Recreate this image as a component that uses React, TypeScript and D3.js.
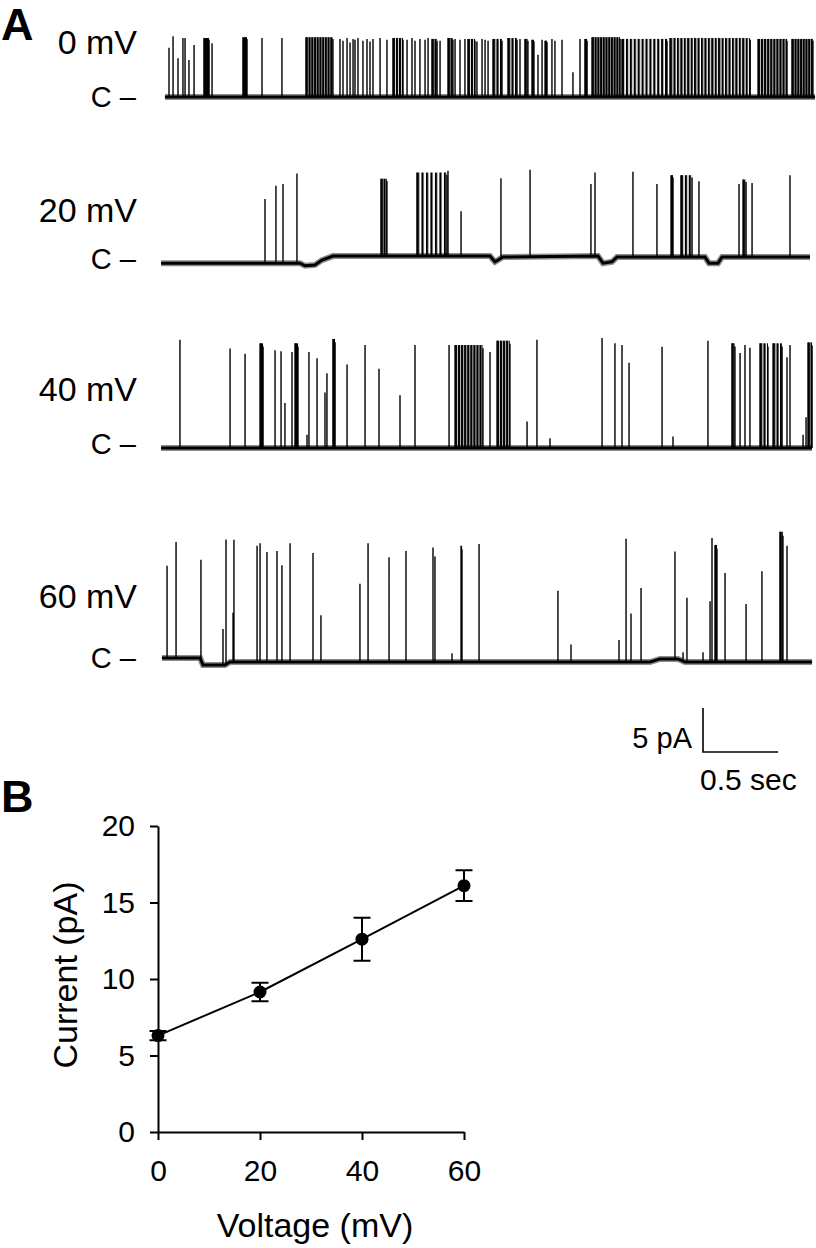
import { useEffect, useRef } from "react"
import * as d3 from "d3"

const W = 816
const H = 1248
const FONT = "'Liberation Sans', Arial, Helvetica, sans-serif"

// ---- panel A: single-channel records (time in s, current in pA) ----
const traceLabels = ["0 mV", "20 mV", "40 mV", "60 mV"]

// baseline level along each record: [time, offset pA]
const baseline0 = [[0.033, 0], [4.367, 0]]
const baseline1 = [
  [0.007, -0.7], [0.933, -0.7], [0.967, -1.0], [1.033, -0.9], [1.08, -0.35], [1.153, 0.1],
  [2.2, 0.1], [2.233, -0.55], [2.287, 0], [2.92, 0.1], [2.953, -0.7], [3.013, -0.55],
  [3.047, 0], [3.633, 0], [3.66, -0.7], [3.72, -0.7], [3.747, 0], [4.333, 0],
]
const baseline2 = [[0.007, 0], [4.347, 0]]
const baseline3 = [
  [0.013, 0.45], [0.267, 0.45], [0.287, -0.35], [0.433, -0.35], [0.467, 0],
  [3.267, 0], [3.333, 0.35], [3.453, 0.35], [3.5, 0], [4.347, 0],
]

// brief openings: [time, peak current]
const openings0 = [
  [0.06, 5.6], [0.087, 6.9], [0.12, 4.4], [0.153, 6.7], [0.167, 6.7], [0.193, 4.2], [0.227, 5.9],
  [0.347, 6.1], [0.68, 6.7], [0.813, 6.7],
  [1.2, 6.6], [1.22, 6.4], [1.247, 6.7], [1.267, 6.2], [1.287, 6.6], [1.3, 6.5], [1.32, 6.7],
  [1.353, 6.4], [1.38, 6.6], [1.4, 6.3], [1.42, 6.6], [1.467, 6.7], [1.513, 6.5],
  [1.647, 6.5], [1.68, 6.7], [1.7, 6.4], [1.733, 6.6], [1.767, 6.5], [1.787, 6.7], [1.867, 6.4],
  [1.967, 6.6], [2.0, 6.5], [2.033, 6.6], [2.113, 6.3], [2.147, 6.6], [2.167, 6.5], [2.187, 6.4],
  [2.4, 6.6], [2.52, 4.8], [2.547, 6.5], [2.613, 6.6], [2.633, 6.4], [2.68, 6.5], [2.753, 2.8],
  [2.8, 6.6], [3.933, 6.5],
]
const openings1 = [
  [0.7, 7.3], [0.773, 8.8], [0.82, 9.0], [0.913, 10.2], [1.92, 9.7], [2.007, 5.1], [2.273, 9.1],
  [2.467, 9.9], [2.873, 8.2], [2.9, 9.5], [3.153, 9.7], [3.313, 8.3], [3.593, 8.6], [3.86, 8.3],
  [3.947, 8.4], [4.2, 9.3],
]
const openings2 = [
  [0.133, 12.3], [0.467, 11.3], [0.567, 10.7], [0.767, 11.1], [0.807, 11.0], [0.833, 5.1],
  [0.88, 10.9], [0.98, 1.5], [0.993, 10.9], [1.047, 10.2], [1.1, 6.3], [1.113, 8.5], [1.247, 9.5],
  [1.367, 11.7], [1.46, 9.0], [1.6, 6.0], [1.7, 11.7], [1.927, 11.7], [2.2, 10.9], [2.447, 3.0],
  [2.513, 12.3], [2.6, 1.1], [2.947, 12.5], [3.033, 11.9], [3.08, 11.7], [3.127, 9.7],
  [3.347, 11.5], [3.42, 1.3], [3.653, 12.2], [3.867, 10.8], [3.9, 11.7], [3.933, 11.4],
  [4.18, 10.3], [4.2, 11.7], [4.287, 1.5], [4.307, 3.5],
]
const openings3 = [
  [0.047, 10.5], [0.107, 13.2], [0.273, 11.4], [0.42, 4.1], [0.44, 14.2], [0.487, 5.6],
  [0.493, 13.9], [0.647, 13.2], [0.667, 13.5], [0.713, 12.5], [0.78, 12.6], [0.813, 11.0],
  [0.867, 13.5], [1.02, 12.4], [1.073, 5.3], [1.333, 8.9], [1.387, 13.5], [1.527, 11.9],
  [1.64, 12.6], [1.82, 13.0], [1.833, 12.0], [1.947, 1.0], [2.127, 13.4], [2.653, 8.1],
  [2.74, 2.0], [3.06, 2.5], [3.107, 14.0], [3.14, 5.5], [3.207, 8.4], [3.433, 12.2],
  [3.487, 1.0], [3.513, 7.3], [3.62, 1.1], [3.667, 6.9], [3.68, 14.1], [3.767, 10.1],
  [3.907, 6.6], [4.013, 10.3], [4.18, 13.2],
]

// bursts of flickering openings: [start, end, peak current, density]
const bursts0 = [
  [0.293, 0.327, 6.7, 1], [0.553, 0.58, 6.8, 1], [0.973, 1.153, 6.8, 0.9], [1.553, 1.62, 6.7, 0.85],
  [1.813, 1.847, 6.6, 0.9], [1.92, 1.953, 6.7, 0.9], [2.053, 2.1, 6.6, 0.85], [2.22, 2.28, 6.6, 0.8],
  [2.32, 2.38, 6.7, 0.8], [2.433, 2.453, 6.6, 0.9], [2.48, 2.493, 6.5, 1], [2.567, 2.58, 6.4, 1],
  [2.833, 2.847, 6.6, 1], [2.88, 3.067, 6.8, 0.9], [3.08, 3.38, 6.6, 0.75], [3.4, 3.933, 6.7, 0.8],
  [3.987, 4.18, 6.6, 0.85], [4.213, 4.353, 6.6, 0.9],
]
const bursts1 = [
  [1.473, 1.513, 8.8, 0.9], [1.713, 1.913, 9.5, 0.7], [3.407, 3.42, 9.3, 1], [3.473, 3.547, 9.3, 0.75],
  [3.887, 3.907, 8.8, 0.8],
]
const bursts2 = [
  [0.667, 0.687, 11.9, 1], [0.9, 0.92, 11.9, 1], [1.153, 1.167, 12.4, 1], [1.967, 2.153, 11.7, 0.85],
  [2.247, 2.333, 12.2, 0.85], [3.813, 3.833, 11.9, 0.9], [4.0, 4.053, 11.9, 0.8],
  [4.087, 4.147, 11.9, 0.8], [4.32, 4.347, 12.0, 0.9],
]
const bursts3 = [[2.007, 2.013, 13.2, 1], [3.7, 3.713, 13.3, 1], [4.133, 4.153, 14.8, 0.95]]

const baselines = [baseline0, baseline1, baseline2, baseline3]
const openings = [openings0, openings1, openings2, openings3]
const bursts = [bursts0, bursts1, bursts2, bursts3]

// scale bar
const scaleBarCurrent = 5 // pA
const scaleBarTime = 0.5 // s

// ---- panel B: I-V relation ----
const ivVoltage = [0, 20, 40, 60]
const ivCurrent = [6.3, 9.15, 12.6, 16.1]
const ivError = [0.3, 0.6, 1.4, 1.0]
const ivYTicks = [0, 5, 10, 15, 20]
const ivXTicks = [0, 20, 40, 60]

// layout
const traceBaseY = [97, 257, 448, 662]
const labelY = [54, 222, 401, 608]
const closedY = [107, 269, 454, 668]
const PX_PER_PA = 8.8
const STRIPE = 2.2

export default function App() {
  const svgRef = useRef<SVGSVGElement>(null)

  useEffect(() => {
    document.body.style.margin = "0"
    const svg = d3.select(svgRef.current)
    svg.selectAll("*").remove()
    svg.attr("width", W).attr("height", H).style("display", "block").style("font-family", FONT)

    svg.append("rect").attr("width", W).attr("height", H).attr("fill", "#fff")
    const defs = svg.append("defs")

    const x = d3.scaleLinear().domain([0, 0.5]).range([160, 235])

    svg.append("text").attr("x", 1).attr("y", 40).attr("font-size", 45).attr("font-weight", "bold").text("A")

    traceLabels.forEach((label, i) => {
      const y0 = traceBaseY[i]
      const y = d3.scaleLinear().domain([0, 5]).range([y0, y0 - 5 * PX_PER_PA])
      const bl = baselines[i]
      const drift = d3
        .scaleLinear()
        .domain(bl.map((d) => d[0]))
        .range(bl.map((d) => d[1]))
        .clamp(true)
      const g = svg.append("g")

      const line = d3
        .line<number[]>()
        .x((d) => x(d[0]))
        .y((d) => y(d[1]))
      // noise band + core
      g.append("path").datum(bl).attr("d", line).attr("fill", "none").attr("stroke", "#000")
        .attr("stroke-opacity", 0.45).attr("stroke-width", 6)
      g.append("path").datum(bl).attr("d", line).attr("fill", "none").attr("stroke", "#000")
        .attr("stroke-width", 3)

      // bursts: vertical stripes, spacing set by density
      bursts[i].forEach(([t0, t1, amp, dens], j) => {
        const id = `fl-${i}-${j}`
        const period = dens >= 1 ? STRIPE : STRIPE / (dens * dens)
        defs
          .append("pattern")
          .attr("id", id)
          .attr("patternUnits", "userSpaceOnUse")
          .attr("x", x(t0))
          .attr("width", period)
          .attr("height", 8)
          .append("rect")
          .attr("width", STRIPE)
          .attr("height", 8)
          .attr("fill", "#000")
        const b = drift((t0 + t1) / 2)
        const yb = y(b)
        const yt = y(b + amp)
        g.append("rect")
          .attr("x", x(t0))
          .attr("y", yt)
          .attr("width", Math.max(1, x(t1) - x(t0)))
          .attr("height", yb - yt)
          .attr("fill", `url(#${id})`)
        g.append("path")
          .attr("d", `M${x(t0)},${yb}V${yt}M${x(t1)},${yb}V${y(b + amp * 0.97)}`)
          .attr("stroke", "#000")
          .attr("stroke-width", 1.4)
      })

      // single openings
      const d = openings[i]
        .map(([t, amp]) => {
          const b = drift(t)
          return `M${x(t)},${y(b)}V${y(b + amp)}`
        })
        .join("")
      g.append("path").attr("d", d).attr("stroke", "#000").attr("stroke-width", 1.4).attr("fill", "none")

      svg.append("text").attr("x", 137).attr("y", labelY[i]).attr("text-anchor", "end")
        .attr("font-size", 34).text(label)
      svg.append("text").attr("x", 136).attr("y", closedY[i]).attr("text-anchor", "end")
        .attr("font-size", 29).text("C \u2013")
    })

    // scale bar
    const sbX = 703
    const sbY = 752
    const sbH = scaleBarCurrent * PX_PER_PA
    const sbW = x(scaleBarTime) - x(0)
    svg.append("path")
      .attr("d", `M${sbX},${sbY - sbH}V${sbY}H${sbX + sbW}`)
      .attr("fill", "none").attr("stroke", "#000").attr("stroke-width", 1.6)
    svg.append("text").attr("x", 692).attr("y", 748).attr("text-anchor", "end").attr("font-size", 29)
      .text(`${scaleBarCurrent} pA`)
    svg.append("text").attr("x", 700).attr("y", 790).attr("font-size", 30).text(`${scaleBarTime} sec`)

    // ---- panel B ----
    svg.append("text").attr("x", 1).attr("y", 812).attr("font-size", 45).attr("font-weight", "bold").text("B")

    const xs = d3.scaleLinear().domain([0, 60]).range([158, 464])
    const ys = d3.scaleLinear().domain([0, 20]).range([1132, 826])

    const yAxis = svg.append("g").attr("transform", "translate(158,0)")
      .call(d3.axisLeft(ys).tickValues(ivYTicks).tickSize(8).tickPadding(15).tickSizeOuter(0))
    const xAxis = svg.append("g").attr("transform", "translate(0,1132)")
      .call(d3.axisBottom(xs).tickValues(ivXTicks).tickSize(8).tickPadding(20).tickSizeOuter(0))
    ;[yAxis, xAxis].forEach((a) => {
      a.attr("font-family", FONT).attr("font-size", 30)
      a.selectAll("path, line").attr("stroke", "#000").attr("stroke-width", 2)
      a.selectAll("text").attr("fill", "#000")
    })

    const pts = ivVoltage.map((v, i) => [v, ivCurrent[i], ivError[i]])
    svg.append("path").datum(pts)
      .attr("d", d3.line<number[]>().x((d) => xs(d[0])).y((d) => ys(d[1])))
      .attr("fill", "none").attr("stroke", "#000").attr("stroke-width", 2)

    pts.forEach(([v, c, e]) => {
      const cx = xs(v)
      svg.append("path")
        .attr("d", `M${cx},${ys(c - e)}V${ys(c + e)}M${cx - 8.5},${ys(c + e)}h17M${cx - 8.5},${ys(c - e)}h17`)
        .attr("stroke", "#000").attr("stroke-width", 2).attr("fill", "none")
      svg.append("circle").attr("cx", cx).attr("cy", ys(c)).attr("r", 6.5).attr("fill", "#000")
    })

    svg.append("text").attr("x", 315).attr("y", 1237).attr("text-anchor", "middle").attr("font-size", 34)
      .text("Voltage (mV)")
    svg.append("text").attr("transform", "translate(77,975) rotate(-90)").attr("text-anchor", "middle")
      .attr("font-size", 34).text("Current (pA)")
  }, [])

  return <svg ref={svgRef}></svg>
}
